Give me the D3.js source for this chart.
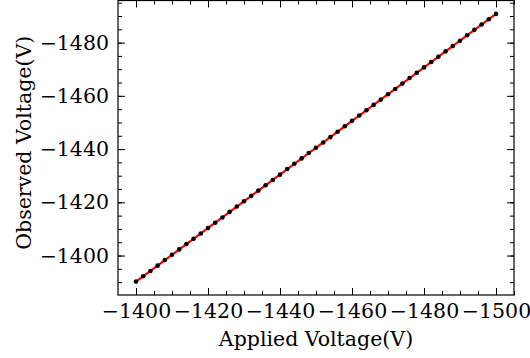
<!DOCTYPE html>
<html>
<head>
<meta charset="utf-8">
<script src="https://cdn.jsdelivr.net/npm/d3@7"></script>
<style>
  body { margin: 0; background: #fff; }
  svg { display: block; }
  text { font-family: "DejaVu Serif", serif; fill: #000; }
</style>
</head>
<body>
<svg id="chart" width="530" height="358"></svg>
<script>
// Applied voltage set-points (V)
const applied = [
  -1400, -1402, -1404, -1406, -1408, -1410, -1412, -1414, -1416, -1418,
  -1420, -1422, -1424, -1426, -1428, -1430, -1432, -1434, -1436, -1438,
  -1440, -1442, -1444, -1446, -1448, -1450, -1452, -1454, -1456, -1458,
  -1460, -1462, -1464, -1466, -1468, -1470, -1472, -1474, -1476, -1478,
  -1480, -1482, -1484, -1486, -1488, -1490, -1492, -1494, -1496, -1498,
  -1500
];
// Measured output voltage at each set-point (V)
const observed = [
  -1390.2, -1392.2, -1394.2, -1396.2, -1398.3, -1400.3, -1402.3, -1404.3, -1406.3, -1408.3,
  -1410.3, -1412.3, -1414.3, -1416.4, -1418.4, -1420.4, -1422.4, -1424.4, -1426.4, -1428.4,
  -1430.4, -1432.5, -1434.5, -1436.5, -1438.5, -1440.5, -1442.5, -1444.5, -1446.5, -1448.6,
  -1450.6, -1452.6, -1454.6, -1456.6, -1458.6, -1460.6, -1462.6, -1464.6, -1466.7, -1468.7,
  -1470.7, -1472.7, -1474.7, -1476.7, -1478.7, -1480.7, -1482.8, -1484.8, -1486.8, -1488.8,
  -1490.8
];
const xTicks = [-1400, -1420, -1440, -1460, -1480, -1500];
const yTicks = [-1400, -1420, -1440, -1460, -1480];
const xTitle = "Applied Voltage(V)";
const yTitle = "Observed Voltage(V)";

const svg = d3.select("#chart");
const box = { left: 118, right: 514, top: 0.5, bottom: 295 };
const fontPx = "20.5px";
const fmt = d3.format("d");

// 5% padding on each side, both axes run toward more negative values
function padded(vals) {
  const [lo, hi] = d3.extent(vals);
  const p = (hi - lo) * 0.05;
  return [hi + p, lo - p];
}
const x = d3.scaleLinear().domain(padded(applied)).range([box.left, box.right]);
const y = d3.scaleLinear().domain(padded(observed)).range([box.bottom, box.top]);

const minorOf = (scale, step) => {
  const [a, b] = scale.domain();
  return d3.range(Math.ceil(Math.min(a, b) / step) * step, Math.max(a, b), step);
};
const xMinor = minorOf(x, 5);
const yMinor = minorOf(y, 5);

const plotW = box.right - box.left, plotH = box.bottom - box.top;

// Least-squares fit through the measurements
const n = applied.length;
const mx = d3.mean(applied), my = d3.mean(observed);
let sxy = 0, sxx = 0;
for (let i = 0; i < n; i++) {
  sxy += (applied[i] - mx) * (observed[i] - my);
  sxx += (applied[i] - mx) ** 2;
}
const slope = sxy / sxx, intercept = my - slope * mx;
const fitEnds = d3.extent(applied).map(v => [v, intercept + slope * v]);

svg.append("path")
  .datum(fitEnds)
  .attr("fill", "none")
  .attr("stroke", "#ff0000")
  .attr("stroke-width", 2.2)
  .attr("d", d3.line().x(d => x(d[0])).y(d => y(d[1])));

svg.append("g")
  .selectAll("circle")
  .data(applied.map((a, i) => [a, observed[i]]))
  .join("circle")
  .attr("cx", d => x(d[0]))
  .attr("cy", d => y(d[1]))
  .attr("r", 2.3)
  .attr("fill", "#000");

// Axes with inward ticks on all four sides
function styleAxis(g) {
  g.select(".domain").remove();
  g.selectAll(".tick line").attr("stroke", "#000").attr("stroke-width", 1);
  g.selectAll("text").style("font-size", fontPx).attr("fill", "#000");
}
function addAxis(gen, tx, ty) {
  return svg.append("g").attr("transform", `translate(${tx},${ty})`).call(gen).call(styleAxis);
}

addAxis(d3.axisBottom(x).tickValues(xMinor).tickSize(-4).tickFormat(""), 0, box.bottom);
addAxis(d3.axisTop(x).tickValues(xMinor).tickSize(-4).tickFormat(""), 0, box.top);
addAxis(d3.axisLeft(y).tickValues(yMinor).tickSize(-4).tickFormat(""), box.left, 0);
addAxis(d3.axisRight(y).tickValues(yMinor).tickSize(-4).tickFormat(""), box.right, 0);

addAxis(d3.axisBottom(x).tickValues(xTicks).tickSize(-7).tickPadding(8).tickFormat(fmt), 0, box.bottom);
addAxis(d3.axisTop(x).tickValues(xTicks).tickSize(-7).tickFormat(""), 0, box.top);
addAxis(d3.axisLeft(y).tickValues(yTicks).tickSize(-7).tickPadding(9).tickFormat(fmt), box.left, 0);
addAxis(d3.axisRight(y).tickValues(yTicks).tickSize(-7).tickFormat(""), box.right, 0);

svg.append("rect")
  .attr("x", box.left).attr("y", box.top)
  .attr("width", plotW).attr("height", plotH)
  .attr("fill", "none").attr("stroke", "#000").attr("stroke-width", 1.2);

svg.append("text")
  .attr("x", (box.left + box.right) / 2)
  .attr("y", 346)
  .attr("text-anchor", "middle")
  .style("font-size", fontPx)
  .text(xTitle);

svg.append("text")
  .attr("transform", `translate(31,${(box.top + box.bottom) / 2 - 5}) rotate(-90)`)
  .attr("text-anchor", "middle")
  .style("font-size", fontPx)
  .text(yTitle);
</script>
</body>
</html>
